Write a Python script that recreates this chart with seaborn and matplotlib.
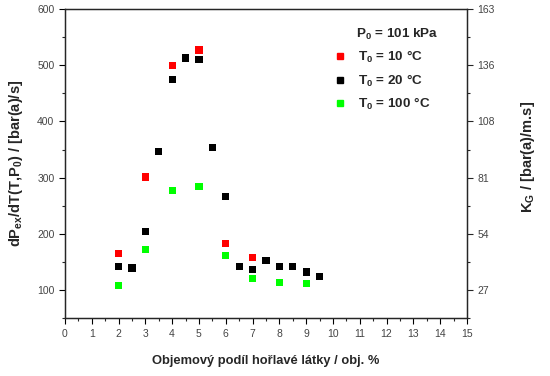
import numpy as np
import pandas as pd
import matplotlib
matplotlib.use("Agg")
import matplotlib.pyplot as plt
import seaborn as sns
from matplotlib.ticker import MultipleLocator

# data
x_10 = [2, 3, 4, 5, 6, 7]
y_10 = [165, 301, 499, 527, 183, 158]

x_20 = [2, 2.5, 3, 3.5, 4, 4.5, 5, 5.5, 6, 6.5, 7, 7.5, 8, 8.5, 9, 9.5]
y_20 = [142, 139, 204, 346, 474, 513, 510, 353, 267, 142, 137, 152, 142, 142, 132, 124]

x_100 = [2, 3, 4, 5, 6, 7, 8, 9]
y_100 = [108, 172, 277, 284, 162, 121, 114, 112]

series_labels = ["T$_0$ = 10 °C", "T$_0$ = 20 °C", "T$_0$ = 100 °C"]
series_colors = ["#ff0000", "#000000", "#00ff00"]
right_tick_labels = ["27", "54", "81", "108", "136", "163"]

df = pd.concat([
    pd.DataFrame({"x": x_10, "y": y_10, "serie": series_labels[0]}),
    pd.DataFrame({"x": x_20, "y": y_20, "serie": series_labels[1]}),
    pd.DataFrame({"x": x_100, "y": y_100, "serie": series_labels[2]}),
])

sns.set_style("ticks")
plt.rcParams["font.family"] = ["Liberation Sans", "DejaVu Sans"]
plt.rcParams["mathtext.fontset"] = "custom"
plt.rcParams["mathtext.rm"] = "Liberation Sans:bold"
plt.rcParams["mathtext.it"] = "Liberation Sans:bold"
plt.rcParams["mathtext.bf"] = "Liberation Sans:bold"

fig = plt.figure(figsize=(5.5, 3.76), dpi=100)
ax = fig.add_axes([0.118, 0.154, 0.731, 0.822])

sns.scatterplot(data=df, x="x", y="y", hue="serie", hue_order=series_labels,
                palette=series_colors, marker="s", s=27, linewidth=0,
                ax=ax, legend=False, zorder=3)

ax.set_xlim(0, 15)
ax.set_ylim(50, 600)
ax.xaxis.set_major_locator(MultipleLocator(1))
ax.xaxis.set_minor_locator(MultipleLocator(0.5))
ax.yaxis.set_major_locator(MultipleLocator(100))
ax.yaxis.set_minor_locator(MultipleLocator(50))
ax.tick_params(which="major", length=4, width=0.8, labelsize=7.5, colors="black",
               labelcolor="#444444")
ax.tick_params(which="minor", length=2.5, width=0.8)
for sp in ax.spines.values():
    sp.set_linewidth(1.0)

ax.set_xlabel("Objemový podíl hořlavé látky / obj. %", fontsize=9.3, fontweight="bold", labelpad=12)
ax.set_ylabel("dP$_{ex}$/dT(T,P$_0$) / [bar(a)/s]", fontsize=10.5, fontweight="bold", labelpad=9)

ax2 = ax.twinx()
ax2.set_ylim(ax.get_ylim())
ax2.set_yticks([100, 200, 300, 400, 500, 600])
ax2.set_yticklabels(right_tick_labels)
ax2.yaxis.set_minor_locator(MultipleLocator(50))
ax2.tick_params(which="major", length=4, width=0.8, labelsize=7.5, labelcolor="#444444")
ax2.tick_params(which="minor", length=2.5, width=0.8)
ax2.set_ylabel("K$_G$ / [bar(a)/m.s]", fontsize=10.5, fontweight="bold")
ax2.yaxis.set_label_coords(1.13, 0.52)

# legend title drawn as its own text, left-aligned with the entry labels
ax.text(0.725, 0.918, "P$_0$ = 101 kPa", transform=ax.transAxes, ha="left", va="center",
        fontsize=9.7, fontweight="bold")
handles = [plt.Line2D([], [], marker="s", color=c, linestyle="none", markersize=5)
           for c in series_colors]
ax.legend(handles, series_labels, loc="upper left", bbox_to_anchor=(0.655, 0.888),
          frameon=False, prop={"size": 9.7, "weight": "bold"},
          handletextpad=0.8, labelspacing=0.55, handlelength=1.0, borderaxespad=0)

fig.savefig("out.png", dpi=100)
